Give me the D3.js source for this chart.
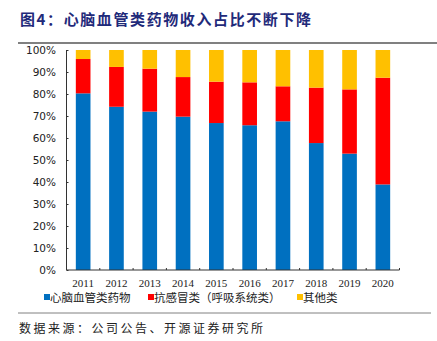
<!DOCTYPE html>
<html>
<head>
<meta charset="utf-8">
<script src="https://cdn.jsdelivr.net/npm/d3@7"></script>
<style>
  body { margin: 0; background: #fff; }
  svg { display: block; }
</style>
</head>
<body>
<svg width="437" height="341"></svg>
<script>
const years = ["2011", "2012", "2013", "2014", "2015", "2016", "2017", "2018", "2019", "2020"];
const cardio = [80.3, 74.2, 72.0, 69.7, 66.8, 65.8, 67.6, 57.7, 52.9, 38.9];
const respiratory = [15.6, 18.1, 19.5, 18.0, 18.8, 19.5, 15.9, 25.2, 29.2, 48.5];
const others = [4.1, 7.7, 8.5, 12.3, 14.4, 14.7, 16.5, 17.1, 17.9, 12.6];
const seriesNames = ["心脑血管类药物", "抗感冒类（呼吸系统类）", "其他类"];
const yTicks = [0, 10, 20, 30, 40, 50, 60, 70, 80, 90, 100];

const colors = ["#0070C0", "#FF0000", "#FFC000"];
const keys = ["cardio", "resp", "other"];

const svg = d3.select("svg");

// title
svg.append("text")
    .attr("x", 20)
    .attr("y", 25)
    .attr("font-family", "Noto Sans CJK SC")
    .attr("font-size", "15px")
    .attr("font-weight", "bold")
    .attr("letter-spacing", "1.6px")
    .attr("fill", "#1F2A7A")
    .text("图4：心脑血管类药物收入占比不断下降");

svg.append("line")
    .attr("x1", 18).attr("x2", 437)
    .attr("y1", 43).attr("y2", 43)
    .attr("stroke", "#808080")
    .attr("stroke-width", 2);

const rows = years.map((y, i) => ({ year: y, cardio: cardio[i], resp: respiratory[i], other: others[i] }));
const stacked = d3.stack().keys(keys)(rows);

const x = d3.scaleBand()
    .domain(years)
    .range([66.5, 399.5])
    .paddingInner(0.56)
    .paddingOuter(0.28);

const y = d3.scaleLinear()
    .domain([0, 100])
    .range([270, 50]);

const g = svg.append("g");

stacked.forEach((s, k) => {
    g.selectAll(".bar-" + k)
        .data(s)
        .enter()
        .append("rect")
        .attr("x", d => x(d.data.year))
        .attr("width", x.bandwidth())
        .attr("y", d => y(Math.min(d[1], 100)))
        .attr("height", d => y(d[0]) - y(Math.min(d[1], 100)))
        .attr("fill", colors[k]);
});

// y axis
const yAxis = g.append("g")
    .attr("transform", "translate(66.5,0)")
    .call(d3.axisRight(y).tickValues(yTicks).tickSize(2).tickFormat(""));
yAxis.select(".domain").attr("stroke", "#333").attr("d", "M0,50V270");
yAxis.selectAll(".tick line").attr("stroke", "#333");

g.selectAll(".ylab")
    .data(yTicks)
    .enter()
    .append("text")
    .attr("x", 56)
    .attr("y", d => y(d) + 4)
    .attr("text-anchor", "end")
    .attr("font-family", "DejaVu Sans")
    .attr("font-size", "10.5px")
    .attr("fill", "#222")
    .text(d => d + "%");

// x axis
const xAxis = g.append("g")
    .attr("transform", "translate(0,270)");
xAxis.append("line")
    .attr("x1", 66.5).attr("x2", 399.5)
    .attr("y1", 0).attr("y2", 0)
    .attr("stroke", "#333");
xAxis.selectAll(".xtick")
    .data(years)
    .enter()
    .append("line")
    .attr("x1", d => x(d) - x.step() * x.paddingInner() / 2)
    .attr("x2", d => x(d) - x.step() * x.paddingInner() / 2)
    .attr("y1", -2).attr("y2", 0)
    .attr("stroke", "#333");
xAxis.append("line")
    .attr("x1", 399.5).attr("x2", 399.5)
    .attr("y1", -2).attr("y2", 0)
    .attr("stroke", "#333");

xAxis.selectAll(".xlab")
    .data(years)
    .enter()
    .append("text")
    .attr("x", d => x(d) + x.bandwidth() / 2)
    .attr("y", 17)
    .attr("text-anchor", "middle")
    .attr("font-family", "Liberation Serif")
    .attr("font-size", "11px")
    .attr("fill", "#222")
    .text(d => d);

// legend
const legendX = [44, 148, 297];
const legend = svg.append("g");
seriesNames.forEach((name, i) => {
    legend.append("rect")
        .attr("x", legendX[i])
        .attr("y", 294)
        .attr("width", 6)
        .attr("height", 6)
        .attr("fill", colors[i]);
    legend.append("text")
        .attr("x", legendX[i] + 6)
        .attr("y", 302)
        .attr("font-family", "Noto Sans CJK SC")
        .attr("font-size", "11.5px")
        .attr("fill", "#222")
        .text(name);
});

svg.append("line")
    .attr("x1", 18).attr("x2", 431)
    .attr("y1", 313).attr("y2", 313)
    .attr("stroke", "#808080")
    .attr("stroke-width", 1);

svg.append("text")
    .attr("x", 19)
    .attr("y", 333)
    .attr("font-family", "Noto Sans CJK SC")
    .attr("font-size", "12px")
    .attr("letter-spacing", "2.5px")
    .attr("fill", "#222")
    .text("数据来源：公司公告、开源证券研究所");
</script>
</body>
</html>
